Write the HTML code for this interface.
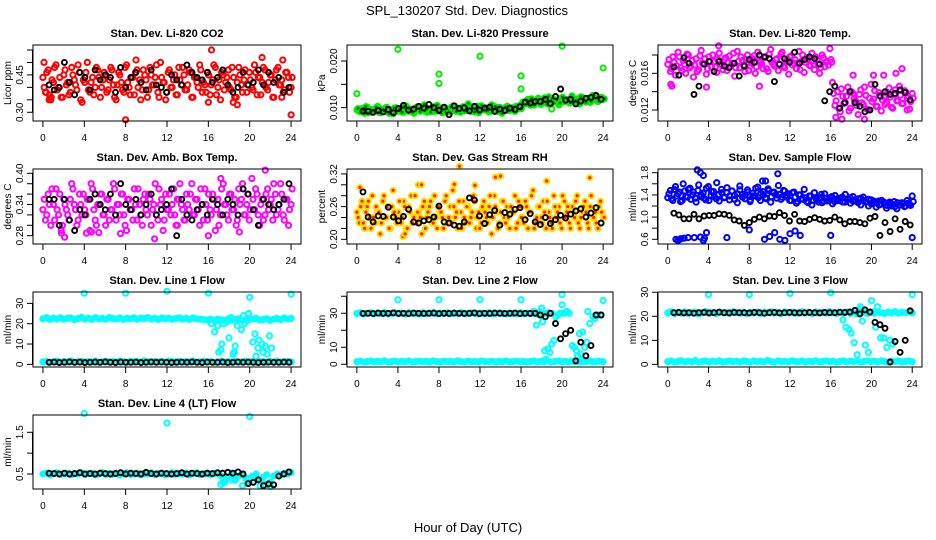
<!DOCTYPE html>
<html><head><meta charset="utf-8"><style>
html,body{margin:0;padding:0;background:#fff;}
svg{display:block;font-family:"Liberation Sans",Arial,sans-serif;}
</style></head><body>
<svg id="chart" width="936" height="540" viewBox="0 0 936 540" xmlns="http://www.w3.org/2000/svg">
<rect x="0" y="0" width="936" height="540" fill="#fff"/>
<text x="467" y="15" text-anchor="middle" font-size="13">SPL_130207  Std. Dev. Diagnostics</text>
<text x="468" y="532" text-anchor="middle" font-size="13">Hour of Day (UTC)</text>
</svg>
<script>
// ---------- DATA ----------
const xTicks = [0,4,8,12,16,20,24];
const xTickLabels = ["0","4","8","12","16","20","24"];

const co2Ticks = [0.30,0.35,0.40,0.45,0.50,0.55];
const co2TickLabels = ["0.30","","","0.45","",""];
const co2Red = [.44,.38,.47,.35,.42,.49,.40,.36,.45,.41,.37,.48,.43,.39,.46,.34,.42,.50,.38,.44,.40,.47,.36,.43,.45,.39,.48,.41,.35,.46,.42,.38,.49,.40,.44,.37,.47,.43,.39,.45,.36,.48,.41,.44,.38,.50,.42,.35,.46,.40,.43,.37,.48,.41,.45,.39,.47,.36,.44,.42,.49,.38,.41,.46,.37,.43,.48,.40,.35,.45,.42,.47,.39,.44,.36,.48,.41,.43,.38,.46,.40,.49,.37,.44,.42,.47,.39,.45,.36,.43,.48,.41,.38,.46,.44,.40];
const co2Red2 = [.40,.46,.37,.43,.48,.39,.44,.36,.47,.42,.38,.45,.41,.49,.35,.43,.46,.39,.42,.37,.48,.44,.40,.46,.38,.43,.47,.36,.41,.45,.39,.48,.42,.37,.44,.46,.40,.35,.47,.43,.39,.45,.41,.49,.36,.44,.42,.38,.47,.40,.45,.37,.43,.48,.39,.41,.46,.36,.44,.40,.47,.42,.38,.45,.41,.49,.37,.43,.46,.39,.44,.40,.48,.36,.42,.45,.38,.47,.41,.43,.39,.46,.44,.37,.48,.40,.42,.45,.36,.47,.41,.43,.39,.46,.38,.44];
const co2OutH = [0.1,0.3,0.6,0.8,8.0,9.0,16.3,16.0,18.4,18.8,21.2,23.2,24.0,23.1];
const co2OutV = [.50,.38,.35,.36,.27,.51,.55,.34,.34,.33,.52,.51,.29,.36];
const co2Black = [.41,.39,.40,.50,.42,.37,.46,.44,.39,.47,.43,.45,.44,.38,.48,.40,.44,.46,.42,.39,.47,.41,.40,.38,.45,.43,.41,.49,.46,.44,.43,.46,.42,.44,.47,.41,.38,.40,.46,.41,.42,.47,.41,.46,.42,.44,.38,.40];

const presTicks = [0.010,0.015,0.020];
const presTickLabels = ["0.010","","0.020"];
const presGreen = [.0095,.0092,.0098,.0088,.0101,.0094,.0090,.0097,.0103,.0089,.0093,.0099,.0091,.0096,.0087,.0100,.0094,.0098,.0090,.0104,.0092,.0095,.0088,.0101,.0097,.0093,.0106,.0090,.0096,.0099,.0092,.0105,.0094,.0089,.0100,.0097,.0091,.0103,.0095,.0098,.0090,.0102,.0094,.0108,.0092,.0097,.0100,.0089,.0104,.0095,.0099,.0091,.0106,.0096,.0093,.0101,.0088,.0098,.0103,.0094,.0100,.0092,.0097,.0105,.0112,.0108,.0118,.0105,.0115,.0110,.0120,.0107,.0116,.0112,.0123,.0109,.0118,.0114,.0106,.0121,.0113,.0117,.0110,.0125,.0112,.0119,.0108,.0122,.0115,.0120,.0111,.0126,.0116,.0113,.0121,.0118];
const presGreen2 = [.0098,.0091,.0095,.0102,.0089,.0096,.0093,.0100,.0090,.0097,.0094,.0101,.0088,.0095,.0099,.0092,.0096,.0090,.0103,.0094,.0097,.0091,.0099,.0095,.0092,.0100,.0094,.0098,.0091,.0102,.0096,.0093,.0099,.0095,.0090,.0097,.0101,.0094,.0092,.0099,.0096,.0093,.0100,.0095,.0098,.0091,.0103,.0094,.0097,.0100,.0093,.0099,.0095,.0102,.0092,.0098,.0096,.0101,.0094,.0099,.0097,.0103,.0100,.0098,.0109,.0115,.0111,.0119,.0106,.0113,.0117,.0110,.0121,.0108,.0114,.0119,.0112,.0116,.0110,.0122,.0114,.0118,.0111,.0120,.0115,.0109,.0123,.0117,.0112,.0119,.0114,.0124,.0118,.0115,.0122,.0119];
const presOutH = [0,4,8,8,12,16,16,20,24,19];
const presOutV = [.0130,.0225,.0172,.0152,.0210,.0168,.0140,.0232,.0185,.0097];
const presBlack = [.0093,.0092,.0090,.0094,.0091,.0096,.0089,.0098,.0105,.0095,.0097,.0103,.0099,.0107,.0100,.0094,.0101,.0085,.0104,.0098,.0100,.0093,.0103,.0095,.0099,.0101,.0092,.0097,.0094,.0099,.0096,.0102,.0112,.0110,.0113,.0113,.0118,.0109,.0124,.0140,.0116,.0118,.0108,.0114,.0120,.0122,.0126,.0118];

const tempTicks = [0.012,0.014,0.016,0.018];
const tempTickLabels = ["0.012","","0.016",""];
const tempMag = [.0170,.0162,.0178,.0158,.0183,.0166,.0174,.0160,.0180,.0168,.0156,.0176,.0164,.0185,.0170,.0159,.0178,.0167,.0173,.0161,.0182,.0169,.0175,.0163,.0179,.0171,.0157,.0184,.0166,.0174,.0162,.0180,.0168,.0176,.0160,.0183,.0172,.0165,.0178,.0162,.0186,.0170,.0175,.0163,.0181,.0168,.0174,.0159,.0179,.0171,.0165,.0184,.0173,.0161,.0177,.0169,.0182,.0164,.0175,.0160,.0180,.0167,.0173,.0187,.0150,.0125,.0140,.0118,.0135,.0128,.0145,.0122,.0138,.0130,.0115,.0142,.0126,.0136,.0120,.0148,.0132,.0124,.0139,.0119,.0134,.0128,.0144,.0123,.0137,.0130,.0146,.0127,.0141,.0133,.0121,.0138];
const tempMag2 = [.0175,.0165,.0172,.0168,.0178,.0163,.0170,.0181,.0166,.0174,.0169,.0162,.0179,.0171,.0176,.0165,.0173,.0180,.0167,.0175,.0170,.0164,.0177,.0172,.0168,.0182,.0166,.0173,.0178,.0169,.0175,.0163,.0171,.0179,.0167,.0174,.0170,.0177,.0165,.0181,.0172,.0168,.0176,.0170,.0183,.0166,.0173,.0178,.0169,.0175,.0171,.0164,.0180,.0172,.0176,.0168,.0174,.0178,.0170,.0166,.0177,.0172,.0169,.0175,.0138,.0130,.0122,.0143,.0127,.0135,.0119,.0140,.0132,.0125,.0137,.0128,.0145,.0121,.0133,.0129,.0141,.0124,.0136,.0131,.0126,.0139,.0134,.0122,.0142,.0130,.0136,.0127,.0140,.0135,.0129,.0133];
const tempOutH = [0.3,0.4,3.8,5.0,9.0,16.1,16.5,17.1,18.2,19.3,20.2,21.2,22.4,23.0,23.5];
const tempOutV = [.0148,.0146,.0145,.0190,.0146,.0172,.0112,.0110,.0158,.0110,.0158,.0158,.0160,.0165,.0120];
const tempBlack = [.0167,.0158,.0177,.0171,.0137,.0146,.0170,.0173,.0162,.0173,.0168,.0166,.0171,.0157,.0168,.0175,.0172,.0180,.0178,.0176,.0151,.0170,.0176,.0172,.0183,.0171,.0175,.0178,.0176,.0170,.0130,.0140,.0146,.0122,.0128,.0140,.0128,.0124,.0118,.0120,.0148,.0135,.0140,.0137,.0138,.0142,.0139,.0131];

const ambTicks = [0.28,0.30,0.32,0.34,0.36,0.38,0.40];
const ambTickLabels = ["0.28","","","0.34","","","0.40"];
const ambMag = [.33,.31,.36,.30,.34,.37,.32,.29,.35,.33,.31,.38,.34,.30,.36,.32,.33,.35,.29,.37,.31,.34,.36,.32,.30,.35,.33,.38,.31,.34,.36,.32,.29,.35,.33,.37,.31,.34,.30,.36,.32,.35,.33,.38,.31,.34,.29,.36,.33,.32,.37,.30,.35,.34,.31,.36,.33,.38,.32,.35,.30,.34,.37,.31,.33,.36,.29,.35,.32,.38,.34,.31,.36,.33,.30,.37,.35,.32,.34,.31,.39,.33,.36,.30,.35,.32,.37,.34,.31,.36,.33,.38,.32,.35,.30,.34];
const ambMag2 = [.35,.32,.34,.37,.31,.33,.36,.30,.34,.32,.35,.37,.33,.31,.34,.36,.32,.35,.38,.33,.30,.34,.36,.32,.35,.31,.33,.37,.34,.32,.36,.30,.35,.33,.31,.34,.37,.32,.35,.33,.36,.30,.34,.32,.37,.35,.31,.33,.36,.34,.32,.35,.38,.33,.31,.34,.36,.32,.35,.33,.37,.31,.34,.36,.32,.35,.33,.30,.37,.34,.32,.36,.33,.35,.31,.34,.38,.32,.36,.33,.35,.37,.32,.34,.31,.36,.33,.35,.38,.32,.34,.36,.31,.35,.33,.37];
const ambOutH = [1.8,2.1,4.2,10.8,16,21.5,17.2,7.5,13,4.7,5.4,19.0];
const ambOutV = [.285,.277,.285,.274,.280,.406,.390,.284,.300,.287,.286,.287];
const ambBlack = [.35,.35,.30,.35,.31,.29,.33,.32,.35,.36,.34,.33,.36,.32,.38,.34,.33,.35,.32,.34,.36,.32,.33,.34,.37,.28,.35,.32,.31,.33,.34,.32,.35,.34,.32,.35,.34,.32,.37,.36,.33,.30,.35,.34,.33,.34,.35,.38];

const rhTicks = [0.20,0.22,0.24,0.26,0.28,0.30,0.32];
const rhTickLabels = ["0.20","","","0.26","","","0.32"];
const rhOrange = [.25,.23,.27,.22,.26,.24,.28,.23,.25,.21,.27,.24,.26,.22,.29,.24,.25,.23,.27,.22,.26,.28,.24,.23,.25,.21,.27,.24,.26,.23,.28,.22,.25,.24,.27,.23,.26,.29,.24,.22,.25,.27,.23,.26,.24,.28,.22,.25,.23,.27,.24,.26,.21,.28,.25,.23,.27,.24,.26,.22,.25,.28,.23,.26,.24,.27,.22,.25,.29,.23,.26,.24,.27,.22,.25,.23,.28,.24,.26,.22,.27,.25,.23,.26,.24,.28,.22,.25,.27,.23,.26,.24,.25,.22,.27,.24];
const rhOrange2 = [.24,.26,.23,.25,.27,.22,.24,.26,.25,.23,.28,.24,.22,.26,.25,.23,.27,.24,.26,.22,.25,.23,.28,.25,.24,.26,.22,.25,.27,.23,.24,.26,.25,.22,.28,.24,.23,.26,.25,.27,.22,.24,.26,.23,.25,.27,.24,.22,.26,.25,.23,.28,.24,.26,.22,.25,.27,.23,.24,.26,.25,.22,.27,.24,.23,.26,.25,.28,.22,.24,.26,.23,.25,.27,.24,.22,.26,.25,.23,.28,.24,.26,.22,.25,.27,.23,.24,.26,.25,.22,.28,.24,.23,.26,.25,.24];
const rhOutH = [0.3,4.5,4.7,6,6.3,10,13.5,14,18.5,22.7,9.5,11.5];
const rhOutV = [.295,.205,.210,.300,.300,.334,.314,.316,.307,.313,.301,.299];
const rhBlack = [.287,.241,.232,.243,.242,.259,.241,.234,.242,.255,.232,.230,.234,.236,.241,.261,.232,.230,.226,.224,.232,.276,.272,.243,.229,.245,.253,.226,.249,.246,.255,.258,.236,.247,.232,.227,.240,.229,.236,.244,.239,.246,.252,.256,.241,.248,.258,.230];

const sfTicks = [0.6,0.8,1.0,1.2,1.4,1.6,1.8];
const sfTickLabels = ["0.6","","1.0","","1.4","","1.8"];
const sfBlue = [1.35,1.48,1.30,1.55,1.42,1.28,1.60,1.38,1.50,1.32,1.45,1.27,1.58,1.40,1.34,1.52,1.30,1.46,1.37,1.62,1.29,1.44,1.36,1.53,1.31,1.47,1.39,1.26,1.56,1.41,1.33,1.49,1.28,1.43,1.38,1.54,1.30,1.46,1.35,1.51,1.27,1.44,1.40,1.57,1.32,1.48,1.36,1.42,1.30,1.45,1.25,1.40,1.33,1.50,1.28,1.38,1.22,1.44,1.31,1.36,1.26,1.42,1.29,1.35,1.24,1.39,1.30,1.34,1.27,1.41,1.32,1.25,1.37,1.29,1.33,1.22,1.36,1.28,1.20,1.31,1.25,1.18,1.29,1.23,1.27,1.16,1.24,1.20,1.28,1.15,1.22,1.26,1.19,1.30,1.23,1.38];
const sfBlue2 = [1.42,1.33,1.50,1.38,1.45,1.30,1.47,1.36,1.52,1.40,1.34,1.48,1.37,1.43,1.31,1.55,1.39,1.46,1.33,1.41,1.50,1.35,1.44,1.38,1.47,1.32,1.42,1.49,1.36,1.40,1.45,1.31,1.38,1.52,1.35,1.43,1.40,1.33,1.48,1.37,1.45,1.34,1.41,1.36,1.47,1.39,1.30,1.44,1.36,1.28,1.40,1.32,1.35,1.26,1.38,1.30,1.33,1.27,1.41,1.29,1.34,1.31,1.37,1.28,1.33,1.30,1.36,1.27,1.32,1.35,1.29,1.31,1.26,1.34,1.30,1.27,1.32,1.24,1.29,1.26,1.22,1.30,1.25,1.21,1.27,1.23,1.19,1.26,1.22,1.24,1.20,1.25,1.21,1.28];
const sfOutH = [0.8,1.0,1.3,1.6,2.0,2.6,3.2,3.5,3.8,5.8,8.0,9.5,10.0,10.5,11.0,11.5,12.0,13.0,16.0,24,2.9,3.2,3.5,10.8,9.3,9.6,1.2,3.6,12.5];
const sfOutV = [.60,.58,.61,.62,.63,.63,.64,.58,.72,.63,.77,.60,.65,.72,.60,.58,.70,.67,.67,.63,1.85,1.80,1.75,1.78,1.65,1.65,.60,.62,.75];
const sfBlack = [1.07,1.04,.97,.97,1.05,.97,1.02,1.03,1.03,1.06,1.05,1.03,.95,.93,.85,.90,.96,1.00,.97,1.02,1.01,1.08,1.03,.93,1.05,.93,.92,.96,.99,.96,.93,.94,1.00,.95,.88,.92,.92,.90,.88,.98,1.01,.67,.90,.74,.97,.78,.92,.86];

const l1Ticks = [0,10,20,30];
const l1TickLabels = ["0","10","20","30"];
const l1Band = [22.4,23.0,22.1,22.7,22.3,22.9,22.2,22.6,22.8,22.0,22.5,23.1,22.3,22.7,22.1,22.9,22.4,22.6,22.2,23.0,22.5,22.3,22.8,22.1,22.6,22.4,22.9,22.2,22.7,22.5,23.0,22.3,22.6,22.1,22.8,22.4,22.7,22.2,22.5,22.9,22.3,22.6,22.1,22.8,22.4,22.2,22.0,21.8,22.1,21.6,22.2,21.9,21.5,22.3,21.8,22.0,22.4,21.7,22.1,21.9,22.3,22.6,21.8,22.0,22.4,21.7,22.2,22.5,22.0,22.8,22.3,22.6];
const l1Low = [1.2,1.5,1.0,1.3,1.6,1.1,1.4,1.2,1.7,1.0,1.3,1.5,1.1,1.4,1.2,1.6,1.0,1.3,1.5,1.2,1.4,1.1,1.6,1.3,1.0,1.5,1.2,1.4,1.1,1.7,1.3,1.0,1.5,1.2,1.4,1.1,1.6,1.3,1.2,1.5,1.0,1.4,1.2,1.6,1.1,1.3,1.5,1.2,1.4,1.0,1.3,1.6,1.1,1.4,1.2,1.5,1.0,1.3,1.6,1.2,1.4,1.1,1.5,1.3,1.0,1.4,1.2,1.6,1.1,1.3,1.5,1.2];
const l1OutH = [16.3,16.6,16.9,17.0,17.2,17.3,17.5,18.0,18.4,18.5,18.6,18.8,19.2,19.4,19.5,19.9,20.3,20.5,20.6,20.8,20.9,21.2,21.3,21.5,21.7,21.9,22.1,18.2,17.8,4,8,12,16,20,24];
const l1OutV = [20,16,19,6,7,10,20,13,5,6,9,19,17,24,20,25,11,15,4,8,12,10,6,9,5,14,8,23,21,35,35,36,35,33,34.5];
const l1Black = [1.0,1.1,0.9,1.0,1.2,1.0,1.1,0.9,1.0,1.1,1.0,1.2,1.0,0.9,1.1,1.0,1.0,1.1,0.9,1.0,1.2,1.0,1.1,1.0,0.9,1.0,1.1,1.0,1.2,1.0,0.9,1.1,1.0,1.0,1.1,0.9,1.0,1.2,1.0,1.1,1.0,0.9,1.0,1.1,1.0,1.0,1.1,1.0];

const l2Ticks = [0,10,20,30,40];
const l2TickLabels = ["0","10","","30",""];
const l2Band = [29.8,30.2,29.6,30.0,30.3,29.7,30.1,29.9,30.4,29.6,30.0,30.2,29.8,30.1,29.7,30.3,29.9,30.0,29.6,30.2,29.8,30.1,30.4,29.7,30.0,29.9,30.2,29.6,30.1,29.8,30.3,29.7,30.0,30.2,29.9,29.6,30.1,29.8,30.3,29.7,30.0,30.2,29.9,29.6,30.1,29.8,30.0,30.3,29.7,30.1,29.9,30.2,29.5,30.0,29.8,30.4,29.9];
const l2Low = [1.5,1.8,1.3,1.6,1.9,1.4,1.7,1.5,2.0,1.3,1.6,1.8,1.4,1.7,1.5,1.9,1.3,1.6,1.8,1.5,1.7,1.4,1.9,1.6,1.3,1.8,1.5,1.7,1.4,2.0,1.6,1.3,1.8,1.5,1.7,1.4,1.9,1.6,1.5,1.8,1.3,1.7,1.5,1.9,1.4,1.6,1.8,1.5,1.7,1.3,1.6,1.9,1.4,1.7,1.5,1.8,1.3,1.6,1.9,1.5,1.7,1.4,1.8,1.6,1.3,1.7,1.5,1.9,1.4,1.6,1.8,1.5];
const l2OutH = [4,8,12,16,20,24,17.2,17.5,17.8,18.0,18.3,18.6,18.8,19.0,19.2,19.4,19.6,19.8,20.0,20.2,20.5,20.7,21.0,21.2,21.5,21.7,22.0,22.2,22.5,22.7,23.0,23.2,23.5,23.8,18.1,18.4,20.4,21.4,21.8,22.4];
const l2OutV = [38,38,38,38,41,37.5,31,23,31,33,8,9,7,12,14,28,29,30,35,30,31,30,11,10,5,18,19,10,31,24,28,27,29,29,25,3,31,8,6,13];
const l2Black = [29.9,30.0,29.8,30.1,29.9,30.0,30.2,29.9,30.0,29.8,30.1,30.0,29.9,30.0,30.1,29.8,30.0,29.9,30.1,30.0,29.9,30.0,30.2,29.8,30.0,29.9,30.1,30.0,29.9,30.0,30.1,29.8,30.0,29.9,30.0,29,28,30,24,15,18,20,2,13,5,11,29,29];

const l3Ticks = [0,10,20,30];
const l3TickLabels = ["0","10","20","30"];
const l3Band = [21.4,21.9,21.1,21.6,21.3,21.8,21.2,21.5,21.7,21.0,21.4,22.0,21.3,21.6,21.1,21.8,21.4,21.5,21.2,21.9,21.5,21.3,21.7,21.1,21.6,21.4,21.8,21.2,21.7,21.5,21.9,21.3,21.6,21.1,21.8,21.4,21.7,21.2,21.5,21.9,21.3,21.6,21.1,21.8,21.4,21.6,21.3,21.9,21.5,21.2,21.7,21.4,21.8,21.2,21.5,21.0,21.4,21.7,21.1,21.6,21.3,21.8,21.5,21.2,21.7,21.4,21.9,21.3,21.6,21.5,21.8,21.4];
const l3Low = [1.1,1.4,0.9,1.2,1.5,1.0,1.3,1.1,1.6,0.9,1.2,1.4,1.0,1.3,1.1,1.5,0.9,1.2,1.4,1.1,1.3,1.0,1.5,1.2,0.9,1.4,1.1,1.3,1.0,1.6,1.2,0.9,1.4,1.1,1.3,1.0,1.5,1.2,1.1,1.4,0.9,1.3,1.1,1.5,1.0,1.2,1.4,1.1,1.3,0.9,1.2,1.5,1.0,1.3,1.1,1.4,0.9,1.2,1.5,1.1,1.3,1.0,1.4,1.2,0.9,1.3,1.1,1.5,1.0,1.2,1.4,1.1];
const l3OutH = [4,8,12,16,24,17.2,17.5,17.8,18.0,18.3,18.6,18.9,19.1,19.4,19.7,20.0,20.3,20.6,20.9,21.2,21.5,21.8,22.1,19.0,20.4];
const l3OutV = [29,29,29.5,29.8,29,18.5,15.5,14.5,13,9,4,24,18,8,5,26.5,22,24,11,11,7,10,8.5,23,15.5];
const l3Black = [21.5,21.6,21.4,21.5,21.3,21.5,21.6,21.4,21.5,21.7,21.5,21.4,21.6,21.5,21.5,21.4,21.6,21.5,21.3,21.5,21.6,21.4,21.5,21.6,21.5,21.4,21.5,21.6,21.5,21.4,21.6,21.5,21.5,21.7,21.6,21.8,22.5,21,22.7,21.8,17.5,16.5,15,1,9.5,5,10,22.3];

const l4Ticks = [0.5,1.0,1.5];
const l4TickLabels = ["0.5","","1.5"];
const l4Band = [.50,.52,.48,.51,.53,.49,.50,.52,.48,.51,.50,.53,.49,.51,.52,.48,.50,.53,.49,.51,.50,.52,.48,.51,.53,.49,.50,.52,.48,.51,.50,.53,.49,.51,.52,.48,.50,.53,.49,.51,.50,.52,.48,.51,.53,.49,.50,.52,.48,.51,.50,.45,.30,.40,.50,.35,.45,.50,.40,.30,.45,.50,.35,.42,.48,.30,.45,.50,.48,.52,.50,.53];
const l4OutH = [4,12,20,17.2,17.4,18.3,19.3,20.0,21.0,21.5,17.6,19.8,22.0];
const l4OutV = [1.95,1.72,1.88,0.25,0.30,0.35,0.22,0.40,0.22,0.25,0.35,0.30,0.20];
const l4Black = [.52,.51,.50,.52,.50,.51,.53,.50,.51,.50,.52,.51,.50,.51,.53,.50,.52,.51,.50,.54,.51,.50,.52,.51,.50,.51,.53,.50,.52,.51,.50,.52,.51,.53,.52,.54,.52,.55,.50,.27,.30,.36,.22,.26,.24,.45,.50,.55];

// ---------- LAYOUT ----------
const NS = "http://www.w3.org/2000/svg";
const svg = document.getElementById('chart');
const colL = [33,347,658], colR = [301,613,922];
const rowT = [45,169,292,415], rowB = [121,244,367,489];

function mk(tag, attrs, parent){
  const e = document.createElementNS(NS, tag);
  for (const k in attrs) e.setAttribute(k, attrs[k]);
  (parent||svg).appendChild(e);
  return e;
}

function drawPanel(p){
  const L = colL[p.col], R = colR[p.col], T = rowT[p.row], B = rowB[p.row];
  const g = mk('g', {});
  
  
  const xs = h => L + (h + 0.96) / 25.92 * (R - L);
  const ys = v => B - (v - p.ylim[0]) / (p.ylim[1] - p.ylim[0]) * (B - T);

  const title = mk('text', {x:(L+R)/2, y:T-8, 'text-anchor':'middle', 'font-size':'11', 'font-weight':'bold'}, g);
  title.textContent = p.title;
  
  

  const marks = mk('g', {}, g);
  
  
  function pts(vals, hours, h0, h1, stroke, fill, sw, r, name){
    const sg = mk('g', {stroke:stroke, fill:fill, 'stroke-width':sw}, marks);
    
    
    vals.forEach((v, i) => {
      const h = hours ? hours[i] : h0 + (vals.length > 1 ? i * (h1 - h0) / (vals.length - 1) : 0);
      const c = mk('circle', {cx:xs(h).toFixed(1), cy:ys(v).toFixed(1), r:r}, sg);
      
      
    });
  }
  p.series.forEach(s => pts(s.vals, s.hours,
    s.h0 === undefined ? 0 : s.h0, s.h1 === undefined ? 24 : s.h1,
    s.stroke, s.fill || 'none', s.sw || '2', s.r || '2.6', p.id + '-' + s.name));
  pts(p.black, null, 0.6, 23.8, '#000', 'none', '1.9', '2.5', p.id + '-hourly-mean');

  const box = mk('rect', {x:L, y:T, width:R-L, height:B-T, fill:'none', stroke:'#000', 'stroke-width':'1'}, g);
  
  

  const xa = mk('g', {stroke:'#000', 'stroke-width':'1'}, g);
  
  
  xTicks.forEach((t, i) => {
    const x = xs(t);
    mk('line', {x1:x, y1:B, x2:x, y2:B+6}, xa);
    const tx = mk('text', {x:x, y:B+20, 'text-anchor':'middle', 'font-size':'10', stroke:'none', fill:'#000'}, xa);
    tx.textContent = xTickLabels[i];
    
    
  });
  const ya = mk('g', {stroke:'#000', 'stroke-width':'1'}, g);
  
  
  const yt0 = ys(p.ticks[0]), yt1 = ys(p.ticks[p.ticks.length-1]);
  mk('line', {x1:L-0.5, y1:yt0, x2:L-0.5, y2:Math.max(yt1, T)}, ya);
  p.ticks.forEach((t, i) => {
    const y = ys(t);
    if (y < T - 5) return;
    mk('line', {x1:L, y1:y, x2:L-6, y2:y}, ya);
    if (p.tickLabels[i]) {
      const tx = mk('text', {x:L-10, y:y, 'text-anchor':'middle', 'font-size':'10', stroke:'none', fill:'#000', transform:'rotate(-90 ' + (L-10) + ' ' + y + ')'}, ya);
      tx.textContent = p.tickLabels[i];
      
      
    }
  });
  const yl = mk('text', {x:L-22, y:(T+B)/2, 'text-anchor':'middle', 'font-size':'10', transform:'rotate(-90 ' + (L-22) + ' ' + (T+B)/2 + ')'}, g);
  yl.textContent = p.ylab;
  
  
}

const cy = '#00ffff';
const panels = [
  {id:'co2', col:0, row:0, title:'Stan. Dev. Li-820 CO2', ylab:'Licor ppm', ylim:[0.265,0.570], ticks:co2Ticks, tickLabels:co2TickLabels,
   series:[{name:'sd', vals:co2Red, stroke:'#ff0000'},{name:'sd-2', vals:co2Red2, h0:0.12, h1:24.1, stroke:'#ff0000'},{name:'outliers', vals:co2OutV, hours:co2OutH, stroke:'#ff0000'}], black:co2Black},
  {id:'pressure', col:1, row:0, title:'Stan. Dev. Li-820 Pressure', ylab:'kPa', ylim:[0.00714,0.02343], ticks:presTicks, tickLabels:presTickLabels,
   series:[{name:'sd', vals:presGreen, stroke:'#00ee00', fill:'#006600'},{name:'sd-2', vals:presGreen2, h0:0.12, h1:24.1, stroke:'#00ee00', fill:'#006600'},{name:'outliers', vals:presOutV, hours:presOutH, stroke:'#00ee00'}], black:presBlack},
  {id:'temp', col:2, row:0, title:'Stan. Dev. Li-820 Temp.', ylab:'degrees C', ylim:[0.0108,0.01909], ticks:tempTicks, tickLabels:tempTickLabels,
   series:[{name:'sd', vals:tempMag, stroke:'#ff00ff'},{name:'sd-2', vals:tempMag2, h0:0.12, h1:24.1, stroke:'#ff00ff'},{name:'outliers', vals:tempOutV, hours:tempOutH, stroke:'#ff00ff'}], black:tempBlack},
  {id:'ambbox', col:0, row:1, title:'Stan. Dev. Amb. Box Temp.', ylab:'degrees C', ylim:[0.264,0.4083], ticks:ambTicks, tickLabels:ambTickLabels,
   series:[{name:'sd', vals:ambMag, stroke:'#ff00ff'},{name:'sd-2', vals:ambMag2, h0:0.12, h1:24.1, stroke:'#ff00ff'},{name:'outliers', vals:ambOutV, hours:ambOutH, stroke:'#ff00ff'}], black:ambBlack},
  {id:'rh', col:1, row:1, title:'Stan. Dev. Gas Stream RH', ylab:'percent', ylim:[0.1914,0.329], ticks:rhTicks, tickLabels:rhTickLabels,
   series:[{name:'sd', vals:rhOrange, stroke:'#ffdd00', fill:'#ff2200'},{name:'sd-2', vals:rhOrange2, h0:0.12, h1:24.1, stroke:'#ffdd00', fill:'#ff2200'},{name:'outliers', vals:rhOutV, hours:rhOutH, stroke:'#ffdd00', fill:'#ff2200'}], black:rhBlack},
  {id:'sampleflow', col:2, row:1, title:'Stan. Dev. Sample Flow', ylab:'ml/min', ylim:[0.515,1.867], ticks:sfTicks, tickLabels:sfTickLabels,
   series:[{name:'sd', vals:sfBlue, stroke:'#0000ff'},{name:'sd-2', vals:sfBlue2, h0:0.12, h1:24.1, stroke:'#0000ff'},{name:'outliers', vals:sfOutV, hours:sfOutH, stroke:'#0000ff'}], black:sfBlack},
  {id:'line1', col:0, row:2, title:'Stan. Dev. Line 1 Flow', ylab:'ml/min', ylim:[-1.3,35.6], ticks:l1Ticks, tickLabels:l1TickLabels,
   series:[{name:'band', vals:l1Band, stroke:cy, fill:cy, sw:'2.4', r:'2.4'},{name:'low-band', vals:l1Low, stroke:cy, fill:cy, sw:'2.4', r:'2.4'},{name:'scatter', vals:l1OutV, hours:l1OutH, stroke:cy}], black:l1Black},
  {id:'line2', col:1, row:2, title:'Stan. Dev. Line 2 Flow', ylab:'ml/min', ylim:[-1.6,42.5], ticks:l2Ticks, tickLabels:l2TickLabels,
   series:[{name:'band', vals:l2Band, h0:0, h1:19, stroke:cy, fill:cy, sw:'2.4', r:'2.4'},{name:'low-band', vals:l2Low, stroke:cy, fill:cy, sw:'2.4', r:'2.4'},{name:'scatter', vals:l2OutV, hours:l2OutH, stroke:cy}], black:l2Black},
  {id:'line3', col:2, row:2, title:'Stan. Dev. Line 3 Flow', ylab:'ml/min', ylim:[-1.1,30.1], ticks:l3Ticks, tickLabels:l3TickLabels,
   series:[{name:'band', vals:l3Band, stroke:cy, fill:cy, sw:'2.4', r:'2.4'},{name:'low-band', vals:l3Low, stroke:cy, fill:cy, sw:'2.4', r:'2.4'},{name:'scatter', vals:l3OutV, hours:l3OutH, stroke:cy}], black:l3Black},
  {id:'line4', col:0, row:3, title:'Stan. Dev. Line 4 (LT) Flow', ylab:'ml/min', ylim:[0.14,1.915], ticks:l4Ticks, tickLabels:l4TickLabels,
   series:[{name:'band', vals:l4Band, stroke:cy, fill:cy, sw:'2.4', r:'2.4'},{name:'scatter', vals:l4OutV, hours:l4OutH, stroke:cy}], black:l4Black}
];
panels.forEach(drawPanel);
</script>
</body></html>
